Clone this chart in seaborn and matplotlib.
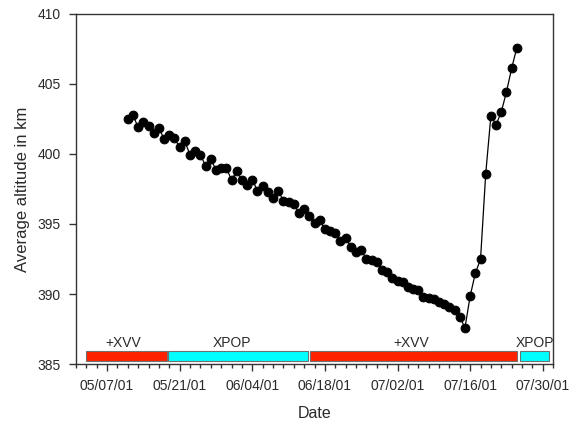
import numpy as np
import pandas as pd
import matplotlib
matplotlib.use("Agg")
import matplotlib.pyplot as plt
import matplotlib.dates as mdates
from matplotlib.ticker import FixedLocator
import seaborn as sns

# ---- data ----
first_day = "2001-05-11"
altitude_km = [
    402.48, 402.76, 401.88, 402.24, 401.95, 401.48, 401.84, 401.05, 401.36, 401.12,
    400.45, 400.88, 399.93, 400.21, 399.93, 399.14, 399.62, 398.86, 398.98, 398.98,
    398.14, 398.74, 398.14, 397.74, 398.14, 397.38, 397.71, 397.31, 396.84, 397.38,
    396.64, 396.59, 396.45, 395.75, 396.05, 395.57, 395.09, 395.29, 394.62, 394.52,
    394.33, 393.79, 393.98, 393.38, 393.02, 393.14, 392.50, 392.43, 392.31, 391.71,
    391.55, 391.12, 390.95, 390.84, 390.48, 390.36, 390.29, 389.76, 389.74, 389.62,
    389.41, 389.26, 389.09, 388.86, 388.38, 387.59, 389.86, 391.48, 392.48, 398.57,
    402.71, 402.07, 402.98, 404.41, 406.09, 407.57,
]

phase_names = ["+XVV", "XPOP", "+XVV", "XPOP"]
phase_start = ["2001-05-02 22:00", "2001-05-18 17:00", "2001-06-15 04:00", "2001-07-25 14:00"]
phase_end = ["2001-05-18 12:00", "2001-06-14 19:00", "2001-07-25 01:30", "2001-07-31 05:00"]
phase_label_at = ["2001-05-10 01:00", "2001-05-31 00:00", "2001-07-04 17:00", "2001-07-28 10:00"]
phase_colors = ["#ff2200", "#00ffff", "#ff2200", "#00ffff"]

x_ticks = ["2001-05-07", "2001-05-21", "2001-06-04", "2001-06-18",
           "2001-07-02", "2001-07-16", "2001-07-30"]
y_ticks = [385, 390, 395, 400, 405, 410]

df = pd.DataFrame({
    "date": pd.date_range(first_day, periods=len(altitude_km), freq="D"),
    "alt": altitude_km,
})

sns.set_theme(style="ticks")
plt.rcParams["font.family"] = ["Liberation Sans", "DejaVu Sans"]

fig = plt.figure(figsize=(5.75, 4.22), dpi=100)
ax = fig.add_axes([0.132, 0.137, 0.830, 0.831])

sns.lineplot(data=df, x="date", y="alt", ax=ax, color="black", linewidth=0.9,
             marker="o", markersize=6.3, markeredgecolor="black",
             markerfacecolor="black")

# attitude phase bars along the bottom
for name, s, e, lx, c in zip(phase_names, phase_start, phase_end, phase_label_at, phase_colors):
    s_num = mdates.date2num(pd.Timestamp(s))
    e_num = mdates.date2num(pd.Timestamp(e))
    ax.barh(385.58, e_num - s_num, left=s_num, height=0.74, color=c,
            edgecolor="#707070", linewidth=0.8)
    ax.text(mdates.date2num(pd.Timestamp(lx)), 386.5, name, ha="center",
            va="center", fontsize=10, color="#2a2a2a")

ax.set_xlim(pd.Timestamp("2001-05-01"), pd.Timestamp("2001-08-01"))
ax.set_ylim(385, 410)
ax.xaxis.set_major_locator(FixedLocator(mdates.date2num(pd.to_datetime(x_ticks))))
ax.xaxis.set_minor_locator(FixedLocator(
    mdates.date2num(pd.date_range("2001-05-01", "2001-08-01", freq="2D"))))
ax.xaxis.set_major_formatter(mdates.DateFormatter("%m/%d/%y"))
ax.set_yticks(y_ticks)

ax.tick_params(axis="both", which="major", direction="out", length=5, width=1,
               labelsize=10, colors="#333333", labelcolor="#2a2a2a", pad=6)
ax.tick_params(axis="x", which="minor", direction="out", length=3, width=1,
               colors="#333333")
for sp in ax.spines.values():
    sp.set_visible(True)
    sp.set_color("#333333")
    sp.set_linewidth(1)

ax.set_xlabel("Date", fontsize=11.5, color="#2a2a2a", labelpad=9)
ax.set_ylabel("Average altitude in km", fontsize=12, color="#2a2a2a", labelpad=5)

fig.savefig("out.png", dpi=100)
